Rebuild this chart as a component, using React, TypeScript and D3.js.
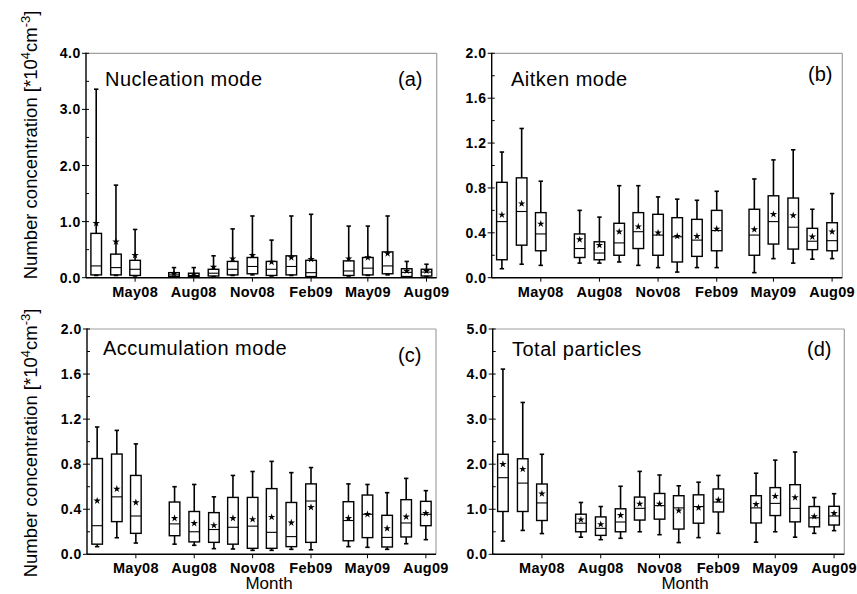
import React, { useEffect, useRef } from 'react';
import * as d3 from 'd3';

// sampling months (Jun08 and Mar09 have no data)
const months = [
  '2008-03', '2008-04', '2008-05', '2008-07', '2008-08', '2008-09', '2008-10', '2008-11',
  '2008-12', '2009-01', '2009-02', '2009-04', '2009-05', '2009-06', '2009-07', '2009-08',
];
const monthTicks = ['2008-05', '2008-08', '2008-11', '2009-02', '2009-05', '2009-08'];

// (a) nucleation mode
const nucMax = [3.36, 1.65, 0.86, 0.18, 0.18, 0.39, 0.87, 1.1, 0.67, 1.1, 1.13, 0.92, 0.92, 1.1, 0.29, 0.24];
const nucQ3 = [0.79, 0.42, 0.31, 0.09, 0.08, 0.15, 0.29, 0.36, 0.29, 0.39, 0.31, 0.3, 0.36, 0.46, 0.16, 0.15];
const nucMed = [0.21, 0.18, 0.15, 0.05, 0.04, 0.08, 0.15, 0.2, 0.15, 0.2, 0.09, 0.12, 0.17, 0.21, 0.095, 0.1];
const nucQ1 = [0.05, 0.05, 0.04, 0.02, 0.02, 0.03, 0.05, 0.07, 0.04, 0.05, 0.02, 0.04, 0.05, 0.07, 0.02, 0.03];
const nucMin = [0.04, 0.04, 0.03, 0.01, 0.01, 0.02, 0.04, 0.05, 0.03, 0.04, 0.01, 0.03, 0.04, 0.05, 0.01, 0.02];
const nucMean = [0.97, 0.64, 0.4, 0.07, 0.06, 0.19, 0.34, 0.4, 0.28, 0.36, 0.33, 0.34, 0.36, 0.43, 0.12, 0.12];

// (b) aitken mode
const aitMax = [1.12, 1.33, 0.86, 0.6, 0.54, 0.82, 0.82, 0.72, 0.7, 0.69, 0.77, 0.88, 1.05, 1.14, 0.61, 0.75];
const aitQ3 = [0.85, 0.89, 0.58, 0.39, 0.32, 0.485, 0.58, 0.565, 0.535, 0.52, 0.6, 0.61, 0.73, 0.71, 0.44, 0.49];
const aitMed = [0.5, 0.59, 0.39, 0.26, 0.22, 0.31, 0.41, 0.38, 0.365, 0.335, 0.42, 0.38, 0.5, 0.45, 0.325, 0.33];
const aitQ1 = [0.16, 0.29, 0.24, 0.18, 0.16, 0.2, 0.26, 0.2, 0.14, 0.19, 0.24, 0.2, 0.3, 0.255, 0.25, 0.24];
const aitMin = [0.08, 0.12, 0.11, 0.13, 0.13, 0.14, 0.11, 0.09, 0.05, 0.09, 0.09, 0.045, 0.17, 0.13, 0.165, 0.17];
const aitMean = [0.56, 0.66, 0.48, 0.34, 0.29, 0.41, 0.455, 0.4, 0.37, 0.37, 0.435, 0.43, 0.565, 0.555, 0.365, 0.41];

// (c) accumulation mode
const accMax = [1.13, 1.1, 0.98, 0.6, 0.62, 0.51, 0.7, 0.735, 0.825, 0.725, 0.77, 0.625, 0.62, 0.547, 0.674, 0.565];
const accQ3 = [0.85, 0.89, 0.7, 0.464, 0.38, 0.37, 0.505, 0.505, 0.583, 0.46, 0.625, 0.467, 0.526, 0.346, 0.485, 0.47];
const accMed = [0.254, 0.51, 0.34, 0.27, 0.2, 0.22, 0.24, 0.25, 0.195, 0.157, 0.473, 0.3, 0.355, 0.15, 0.278, 0.355];
const accQ1 = [0.09, 0.29, 0.186, 0.165, 0.11, 0.106, 0.09, 0.053, 0.053, 0.068, 0.106, 0.12, 0.148, 0.065, 0.154, 0.254];
const accMin = [0.068, 0.147, 0.1, 0.09, 0.08, 0.05, 0.047, 0.035, 0.035, 0.044, 0.04, 0.068, 0.062, 0.044, 0.094, 0.13];
const accMean = [0.475, 0.58, 0.46, 0.32, 0.275, 0.257, 0.32, 0.31, 0.33, 0.28, 0.417, 0.32, 0.355, 0.23, 0.333, 0.364];

// (d) total particles
const totMax = [4.11, 3.37, 2.22, 1.15, 1.06, 1.51, 1.84, 1.76, 1.52, 1.6, 1.75, 1.8, 2.09, 2.27, 1.26, 1.345];
const totQ3 = [2.22, 2.12, 1.56, 0.89, 0.83, 1.01, 1.27, 1.35, 1.3, 1.32, 1.45, 1.3, 1.48, 1.545, 1.06, 1.065];
const totMed = [1.7, 1.58, 1.14, 0.69, 0.576, 0.717, 1.02, 1.08, 1.03, 1.06, 1.16, 1.03, 1.13, 1.02, 0.81, 0.85];
const totQ1 = [0.95, 0.95, 0.75, 0.5, 0.42, 0.5, 0.76, 0.78, 0.56, 0.69, 0.94, 0.695, 0.86, 0.72, 0.61, 0.65];
const totMin = [0.295, 0.53, 0.46, 0.38, 0.325, 0.355, 0.5, 0.435, 0.26, 0.37, 0.465, 0.27, 0.5, 0.38, 0.465, 0.525];
const totMean = [2.0, 1.89, 1.345, 0.77, 0.665, 0.865, 1.12, 1.12, 0.97, 1.035, 1.205, 1.11, 1.29, 1.26, 0.84, 0.91];

const parseMonth = d3.timeParse('%Y-%m');
const fmtMonth = d3.timeFormat('%b%y');
const FONT = '"Liberation Sans", Arial, sans-serif';

interface PanelSpec {
  title: string;
  tag: string;
  yMax: number;
  major: number;
  minor: number;
  min: number[];
  q1: number[];
  med: number[];
  q3: number[];
  max: number[];
  mean: number[];
  box: { x0: number; x1: number; y0: number; y1: number };
  titlePos: [number, number];
  tagPos: [number, number];
}

const panels: PanelSpec[] = [
  {
    title: 'Nucleation mode', tag: '(a)', yMax: 4, major: 1, minor: 0.5,
    min: nucMin, q1: nucQ1, med: nucMed, q3: nucQ3, max: nucMax, mean: nucMean,
    box: { x0: 86, x1: 436.7, y0: 53.3, y1: 277.7 },
    titlePos: [105, 86], tagPos: [398, 86],
  },
  {
    title: 'Aitken mode', tag: '(b)', yMax: 2, major: 0.4, minor: 0.2,
    min: aitMin, q1: aitQ1, med: aitMed, q3: aitQ3, max: aitMax, mean: aitMean,
    box: { x0: 491.7, x1: 842.3, y0: 53.3, y1: 277.7 },
    titlePos: [511, 86], tagPos: [808, 81],
  },
  {
    title: 'Accumulation mode', tag: '(c)', yMax: 2, major: 0.4, minor: 0.2,
    min: accMin, q1: accQ1, med: accMed, q3: accQ3, max: accMax, mean: accMean,
    box: { x0: 87, x1: 436, y0: 329, y1: 554.3 },
    titlePos: [103, 355], tagPos: [398, 362],
  },
  {
    title: 'Total particles', tag: '(d)', yMax: 5, major: 1, minor: 0.5,
    min: totMin, q1: totQ1, med: totMed, q3: totQ3, max: totMax, mean: totMean,
    box: { x0: 492.7, x1: 844.3, y0: 329, y1: 554.3 },
    titlePos: [512, 356], tagPos: [807, 356],
  },
];

const yLabelCenter = [145, 443];

const App: React.FC = () => {
  const svgRef = useRef<SVGSVGElement | null>(null);

  useEffect(() => {
    const svg = d3.select(svgRef.current);
    svg.selectAll('*').remove();

    const dates = months.map((m) => parseMonth(m) as Date);
    const tickDates = monthTicks.map((m) => parseMonth(m) as Date);
    const star = d3.symbol().type(d3.symbolStar).size(17);

    panels.forEach((p, pi) => {
      const { x0, x1, y0, y1 } = p.box;
      const x = d3
        .scaleTime()
        .domain([new Date(2008, 1, 14), new Date(2009, 7, 17)])
        .range([x0, x1]);
      const y = d3.scaleLinear().domain([0, p.yMax]).range([y1, y0]);
      const g = svg.append('g');

      // frame: grey top/right, black left/bottom
      g.append('line').attr('x1', x0).attr('x2', x1).attr('y1', y0).attr('y2', y0)
        .attr('stroke', '#a0a0a0').attr('stroke-width', 1.2);
      g.append('line').attr('x1', x1).attr('x2', x1).attr('y1', y0).attr('y2', y1)
        .attr('stroke', '#a0a0a0').attr('stroke-width', 1.2);

      // y ticks
      const nMinor = Math.round(p.yMax / p.minor);
      d3.range(nMinor + 1).forEach((i) => {
        const v = i * p.minor;
        const isMajor = Math.abs(v / p.major - Math.round(v / p.major)) < 1e-6;
        g.append('line')
          .attr('x1', isMajor ? x0 - 4 : x0).attr('x2', x0 + 3)
          .attr('y1', y(v)).attr('y2', y(v))
          .attr('stroke', '#000').attr('stroke-width', 1);
        if (isMajor) {
          g.append('text')
            .attr('x', x0 - 5).attr('y', y(v) + 5)
            .attr('text-anchor', 'end')
            .attr('font-family', FONT).attr('font-weight', 'bold')
            .attr('font-size', 14).attr('letter-spacing', 0.6)
            .text(d3.format('.1f')(v));
        }
      });

      // x ticks
      tickDates.forEach((d) => {
        g.append('line')
          .attr('x1', x(d)).attr('x2', x(d)).attr('y1', y1).attr('y2', y1 + 4)
          .attr('stroke', '#000').attr('stroke-width', 1);
        g.append('text')
          .attr('x', x(d)).attr('y', y1 + 19)
          .attr('text-anchor', 'middle')
          .attr('font-family', FONT).attr('font-weight', 'bold')
          .attr('font-size', 14.5).attr('letter-spacing', 0.3)
          .text(fmtMonth(d));
      });

      g.append('line').attr('x1', x0).attr('x2', x0).attr('y1', y0 - 0.5).attr('y2', y1)
        .attr('stroke', '#000').attr('stroke-width', 1.4);
      g.append('line').attr('x1', x0).attr('x2', x1).attr('y1', y1).attr('y2', y1)
        .attr('stroke', '#000').attr('stroke-width', 1.4);

      // boxes
      const bw = 10.6;
      const cap = 2.2;
      dates.forEach((d, i) => {
        const cx = x(d);
        g.append('line')
          .attr('x1', cx).attr('x2', cx).attr('y1', y(p.max[i])).attr('y2', y(p.q3[i]))
          .attr('stroke', '#000').attr('stroke-width', 1.6);
        g.append('line')
          .attr('x1', cx).attr('x2', cx).attr('y1', y(p.q1[i])).attr('y2', y(p.min[i]))
          .attr('stroke', '#000').attr('stroke-width', 1.6);
        [p.max[i], p.min[i]].forEach((v) => {
          g.append('line')
            .attr('x1', cx - cap).attr('x2', cx + cap).attr('y1', y(v)).attr('y2', y(v))
            .attr('stroke', '#000').attr('stroke-width', 1.6);
        });
        g.append('rect')
          .attr('x', cx - bw / 2).attr('y', y(p.q3[i]))
          .attr('width', bw).attr('height', Math.max(0.5, y(p.q1[i]) - y(p.q3[i])))
          .attr('fill', 'none').attr('stroke', '#000').attr('stroke-width', 1.4);
        g.append('line')
          .attr('x1', cx - bw / 2).attr('x2', cx + bw / 2)
          .attr('y1', y(p.med[i])).attr('y2', y(p.med[i]))
          .attr('stroke', '#000').attr('stroke-width', 1.1);
        g.append('path')
          .attr('d', star())
          .attr('transform', `translate(${cx},${y(p.mean[i])})`)
          .attr('fill', '#000');
      });

      // titles
      g.append('text')
        .attr('x', p.titlePos[0]).attr('y', p.titlePos[1])
        .attr('font-family', FONT).attr('font-size', 20).attr('letter-spacing', 0.5)
        .text(p.title);
      g.append('text')
        .attr('x', p.tagPos[0]).attr('y', p.tagPos[1])
        .attr('font-family', FONT).attr('font-size', 20)
        .text(p.tag);

      // axis titles
      if (pi % 2 === 0) {
        const cy = yLabelCenter[pi / 2];
        const t = g.append('text')
          .attr('transform', `translate(37,${cy}) rotate(-90)`)
          .attr('text-anchor', 'middle')
          .attr('font-family', FONT).attr('font-size', 18.5);
        t.append('tspan').text('Number concentration [*10');
        t.append('tspan').attr('dy', -7).attr('font-size', 13).text('4');
        t.append('tspan').attr('dy', 7).text('cm');
        t.append('tspan').attr('dy', -7).attr('font-size', 13).text('-3');
        t.append('tspan').attr('dy', 7).text(']');
      }
      if (pi >= 2) {
        g.append('text')
          .attr('x', pi === 2 ? 269 : 685).attr('y', 589)
          .attr('text-anchor', 'middle')
          .attr('font-family', FONT).attr('font-size', 17)
          .text('Month');
      }
    });
  }, []);

  return (
    <svg
      ref={svgRef}
      width={857}
      height={594}
      style={{ position: 'absolute', left: 0, top: 0, background: '#fff' }}
    />
  );
};

export default App;
